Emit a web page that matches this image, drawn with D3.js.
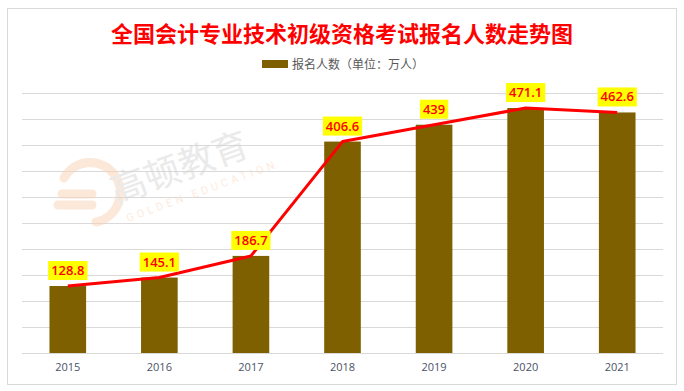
<!DOCTYPE html>
<html>
<head>
<meta charset="utf-8">
<script src="https://cdn.jsdelivr.net/npm/d3@7"></script>
<style>
  body { margin: 0; background: #fff; }
  svg { display: block; }
</style>
</head>
<body>
<div id="chart"></div>
<script>
// data
const years  = ['2015', '2016', '2017', '2018', '2019', '2020', '2021'];
const counts = [128.8, 145.1, 186.7, 406.6, 439, 471.1, 462.6];
const labels = ['128.8', '145.1', '186.7', '406.6', '439', '471.1', '462.6'];
const yTicks = [0, 50, 100, 150, 200, 250, 300, 350, 400, 450, 500];

const title = '全国会计专业技术初级资格考试报名人数走势图';
const legendText = '报名人数（单位：万人）';

const W = 684, H = 391;
const plot = { l: 22, r: 663, t: 93, b: 353 };

const svg = d3.select('#chart').append('svg')
  .attr('width', W).attr('height', H);

// outer frame
svg.append('rect')
  .attr('x', 7.5).attr('y', 8.5)
  .attr('width', 669).attr('height', 376)
  .attr('fill', '#fff').attr('stroke', '#d9d9d9');

const x = d3.scaleBand().domain(years)
  .range([plot.l, plot.r]).paddingInner(0.6).paddingOuter(0.3);
const y = d3.scaleLinear().domain([0, 500]).range([plot.b, plot.t]);

// gridlines
svg.append('g').selectAll('line')
  .data(yTicks).join('line')
  .attr('x1', plot.l).attr('x2', plot.r)
  .attr('y1', d => Math.round(y(d)) + 0.5)
  .attr('y2', d => Math.round(y(d)) + 0.5)
  .attr('stroke', '#d9d9d9').attr('stroke-width', 1);

// watermark (faint)
const wm = svg.append('g').attr('opacity', 0.5);
wm.append('path')
  .attr('d', 'M64,178 A30,30 0 1,1 96,222 M62,194 h30 M58,205 h34')
  .attr('fill', 'none').attr('stroke', '#fbd3b5').attr('stroke-width', 9)
  .attr('stroke-linecap', 'round');
wm.append('text')
  .attr('transform', 'translate(116,204) rotate(-20)')
  .attr('font-family', '"Noto Sans CJK SC", sans-serif')
  .attr('font-size', 36).attr('fill', '#d6d6d6')
  .text('高顿教育');
wm.append('text')
  .attr('transform', 'translate(128,222) rotate(-20)')
  .attr('font-family', 'Roboto, sans-serif')
  .attr('font-size', 11).attr('letter-spacing', 3.5)
  .attr('fill', '#fcd9c0')
  .text('GOLDEN EDUCATION');

// bars
svg.append('g').selectAll('rect')
  .data(years).join('rect')
  .attr('x', d => x(d))
  .attr('width', x.bandwidth())
  .attr('y', (d, i) => y(counts[i]))
  .attr('height', (d, i) => y(0) - y(counts[i]))
  .attr('fill', '#7f6000');

// trend line
const line = d3.line()
  .x((d, i) => x(years[i]) + x.bandwidth() / 2)
  .y(d => y(d));
svg.append('path')
  .datum(counts)
  .attr('d', line)
  .attr('fill', 'none')
  .attr('stroke', '#ff0000')
  .attr('stroke-width', 3)
  .attr('stroke-linejoin', 'round');

// value labels
const lab = svg.append('g').selectAll('g')
  .data(years).join('g')
  .attr('transform', (d, i) =>
    `translate(${x(d) + x.bandwidth() / 2},${y(counts[i]) - 6})`);
lab.append('text')
  .attr('text-anchor', 'middle')
  .attr('y', -5)
  .attr('font-family', '"Open Sans", sans-serif')
  .attr('font-weight', 600).attr('font-size', 13)
  .attr('fill', '#ff0000')
  .text((d, i) => labels[i])
  .each(function () {
    const b = this.getBBox();
    d3.select(this.parentNode).insert('rect', 'text')
      .attr('x', b.x - 3).attr('y', -19)
      .attr('width', b.width + 6).attr('height', 19)
      .attr('fill', '#ffff00');
  });

// x-axis labels
svg.append('g').selectAll('text')
  .data(years).join('text')
  .attr('x', d => x(d) + x.bandwidth() / 2)
  .attr('y', 371)
  .attr('text-anchor', 'middle')
  .attr('font-family', '"Open Sans", sans-serif')
  .attr('font-size', 11)
  .attr('fill', '#4a5266')
  .text(d => d);

// title
svg.append('text')
  .attr('x', W / 2).attr('y', 42)
  .attr('text-anchor', 'middle')
  .attr('font-family', '"Noto Sans CJK SC", sans-serif')
  .attr('font-weight', 'bold').attr('font-size', 22)
  .attr('fill', '#ff0000')
  .text(title);

// legend
svg.append('rect')
  .attr('x', 262).attr('y', 60).attr('width', 26).attr('height', 8)
  .attr('fill', '#7f6000');
svg.append('text')
  .attr('x', 292).attr('y', 68.5)
  .attr('font-family', '"Noto Sans CJK SC", sans-serif')
  .attr('font-size', 12)
  .attr('fill', '#595959')
  .text(legendText);
</script>
</body>
</html>
